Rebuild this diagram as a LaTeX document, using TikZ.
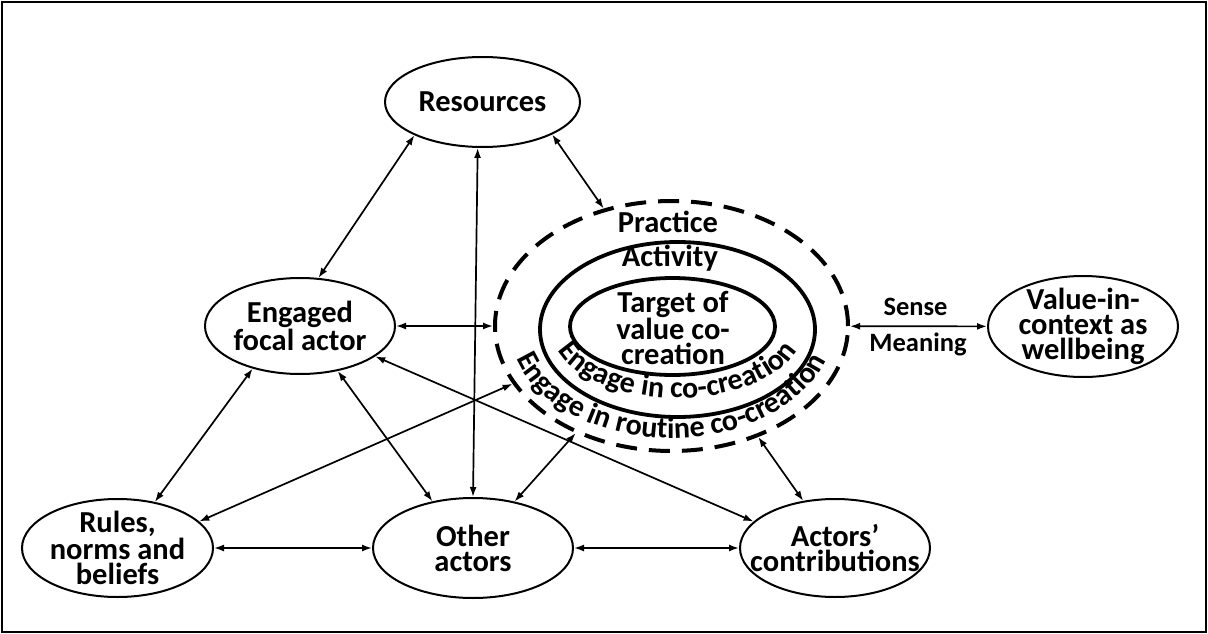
\documentclass[tikz,border=0pt]{standalone}
\usepackage{fontspec}
\setmainfont{Carlito}
\usetikzlibrary{arrows.meta,shapes.geometric,decorations.text}

\begin{document}
\begin{tikzpicture}[x=1pt,y=1pt,
  >={Latex[length=10pt,width=7pt]},
  every node/.style={font=\bfseries\fontsize{30.5}{25}\selectfont, align=center},
  box/.style={ellipse, draw, line width=2pt, inner sep=-18pt},
  ring/.style={ellipse, draw, line width=3.8pt, inner sep=0pt},
  practice/.style={ellipse, draw, line width=4pt, dash pattern=on 21pt off 12pt, inner sep=0pt},
  link/.style={<->, line width=1.7pt},
  small/.style={font=\bfseries\fontsize{26.5}{26}\selectfont},
  curved/.style={decorate, decoration={text along path, text align=center, text={#1}}}
]
\useasboundingbox (0,0) rectangle (1208,-634);
\draw[line width=2pt] (2,-2) rectangle (1206,-632);

% outer actors and resources
\node[box, minimum width=195pt, minimum height=90pt]  (res) at (482.5,-102) {Resources};
\node[box, minimum width=190pt, minimum height=96pt]  (foc) at (300,-326)   {Engaged\\focal actor};
\node[box, minimum width=191pt, minimum height=98pt]  (rul) at (117.5,-548) {Rules,\\norms and\\beliefs};
\node[box, minimum width=200pt, minimum height=100pt] (oth) at (473,-548)   {Other\\actors};
\node[box, minimum width=190pt, minimum height=98pt]  (con) at (835,-548)   {Actors’\\contributions};
\node[box, minimum width=190pt, minimum height=101pt] (val) at (1083,-326.5) {Value-in-\\context as\\wellbeing};

% nested practice / activity / target
\node[practice, minimum width=353pt, minimum height=250pt] (prac) at (671.5,-326) {};
\node[ring, minimum width=275pt, minimum height=175pt] (act) at (677.5,-329.5) {};
\node[ring, minimum width=205pt, minimum height=97pt]  (tgt) at (672.5,-326.5) {};
\node (tgttxt)  at (673,-328) {Target of\\value co-\\creation};
\node (practxt) at (668,-222) {Practice};
\node (acttxt)  at (670,-258) {Activity};

\path[curved={|\bfseries\fontsize{30}{30}\selectfont|Engage in co-creation}]
  (677.5,-329.5) ++(189:125pt and 68.5pt)
  arc[start angle=189, end angle=351, x radius=125pt, y radius=68.5pt];
\path[curved={|\bfseries\fontsize{30}{30}\selectfont|Engage in routine co-creation}]
  (671.5,-326) ++(191:162pt and 112pt)
  arc[start angle=191, end angle=348, x radius=162pt, y radius=112pt];

% connectors
\draw[link] (res.206)   -- (foc.69);
\draw[link] (res.264.5) -- (oth.90);
\draw[link] (res.335)   -- (prac.120.5);
\draw[link] (foc)       -- (prac);
\draw[link] (foc.222)   -- (rul.51);
\draw[link] (foc.310)   -- (oth.131);
\draw[link] (foc.338)   -- (con.162);
\draw[link] (rul.18)    -- (prac.200);
\draw[link] (rul)       -- (oth);
\draw[link] (oth)       -- (con);
\draw[link] (oth)       -- (prac);
\draw[link] (prac.308)  -- (con.124.5);
\draw[link] (prac)      -- (val);

\node[small] (sense) at (915.5,-307) {Sense};
\node[small] (mean)  at (918,-344)   {Meaning};
\end{tikzpicture}
\end{document}
